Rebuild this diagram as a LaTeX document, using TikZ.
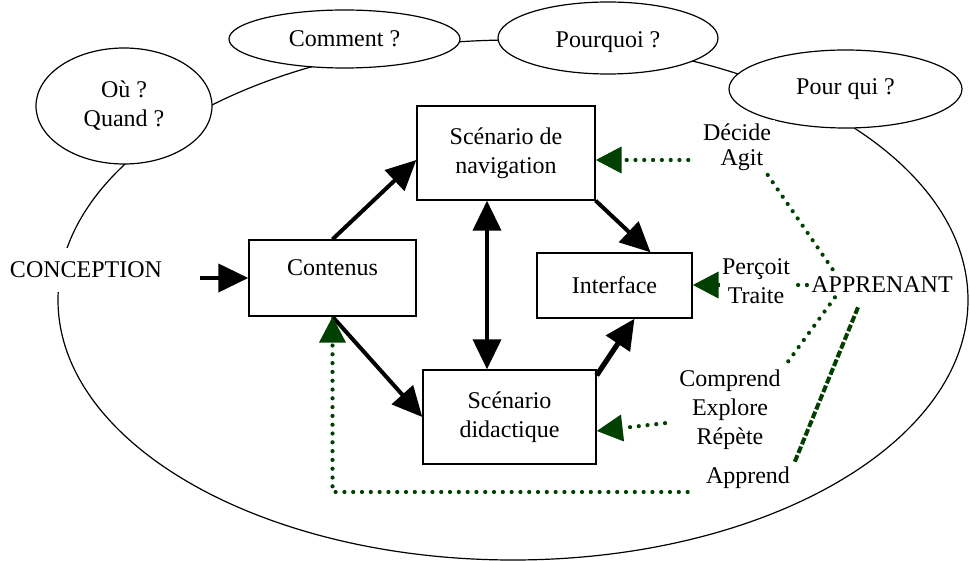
\documentclass[tikz,border=0pt]{standalone}
\usepackage{fontspec}
\setmainfont{Liberation Serif}
\usetikzlibrary{shapes.geometric,arrows.meta}
\definecolor{vertfonce}{RGB}{0,64,0}

\begin{document}
\begin{tikzpicture}[x=0.5pt,y=-0.5pt,
    font=\fontsize{12}{14.5}\selectfont,
    bulle/.style={draw,ellipse,fill=white,line width=0.6pt,inner sep=0pt,align=center},
    boite/.style={draw,rectangle,line width=0.7pt,inner sep=0pt,align=center},
    mot/.style={fill=white,inner sep=2pt,align=center},
    fleche/.style={-{Triangle[length=15pt,width=14pt]},line width=2pt},
    doublefleche/.style={{Triangle[length=15pt,width=14pt]}-{Triangle[length=15pt,width=14pt]},line width=2pt},
    pointille/.style={vertfonce,line width=2.1pt,line cap=round,dash pattern=on 0pt off 4.4pt},
    pointe/.style={-{Triangle[length=13pt,width=13pt]}},
    tirets/.style={vertfonce,line width=2pt,dash pattern=on 3.5pt off 1.2pt}]
        \useasboundingbox (0,0) rectangle (970,561);

        % Ellisse esterna
        \draw[line width=0.6pt] (513,300) ellipse [x radius=455, y radius=260];

        % Domande
        \node[bulle,minimum width=88pt,minimum height=58pt] (ou) at (124,106) {Où ?\\Quand ?};
        \node[bulle,minimum width=115.5pt,minimum height=29pt] (comment) at (344.5,39) {Comment ?};
        \node[bulle,minimum width=110pt,minimum height=36pt,text height=12pt] (pourquoi) at (608,38) {Pourquoi ?};
        \node[bulle,minimum width=116.5pt,minimum height=39pt] (pourqui) at (845.5,89) {Pour qui ?};

        \node[fill=white,inner xsep=4pt,inner ysep=7pt] (concept) at (86,270) {CONCEPTION};

        % Riquadri
        \node[boite,minimum width=89pt,minimum height=47pt] (nav) at (506,153) {Scénario de\\navigation};
        \node[boite,minimum width=83.5pt,minimum height=38pt,text depth=10pt] (cont) at (332.5,278) {Contenus};
        \node[boite,minimum width=77.5pt,minimum height=32.5pt] (intf) at (614.5,285.5) {Interface};
        \node[boite,minimum width=86.5pt,minimum height=47pt] (did) at (509.5,417) {Scénario\\didactique};

        % Azioni dell'apprenant
        \node[mot] (decide) at (737,132) {Décide};
        \node[mot] (agit) at (742,160) {Agit};
        \node[mot] (app) at (882,285) {APPRENANT};
        \node[mot] (cer) at (730,410) {Comprend\\Explore\\Répète};
        \node[mot] (apprend) at (748,478) {Apprend};

        % Frecce nere
        \draw[fleche,shorten <=15pt] (concept.east |- cont.west) -- (cont.west);
        \draw[fleche] (cont.north) -- ([yshift=-3.5pt]nav.west);
        \draw[fleche] (cont.south) -- (did.west);
        \draw[fleche] (nav.south east) -- ([xshift=18pt]intf.north);
        \draw[doublefleche] ([xshift=-9.5pt]nav.south) -- ([xshift=-9.5pt]nav.south |- did.north);
        \draw[fleche,line width=2.6pt] ([yshift=-3pt]did.north east) -- ([xshift=10pt]intf.south);

        % Frecce tratteggiate verdi
        \draw[pointille,pointe,shorten <=14pt] (agit.west) -- (agit.west -| nav.east);
        \draw[pointille,pointe] (app.west) -- (app.west -| intf.east);
        \node[mot,inner sep=1pt] (pt) at (756,281) {Perçoit\\Traite};
        \draw[pointille] (agit.south east) -- ([xshift=14pt]app.north west);
        \draw[pointille] ([xshift=14pt]app.south west) -- (cer.north east);
        \draw[pointille,pointe,shorten <=5pt] ([yshift=-6pt]cer.west) -- ([yshift=-7pt]did.east);
        \draw[pointille,pointe,shorten <=7pt] ([yshift=-7pt]apprend.west) -| (cont.south);
        \draw[tirets] ([xshift=-12pt,yshift=-5pt]app.south) -- (apprend.north east);
      \end{tikzpicture}
\end{document}
